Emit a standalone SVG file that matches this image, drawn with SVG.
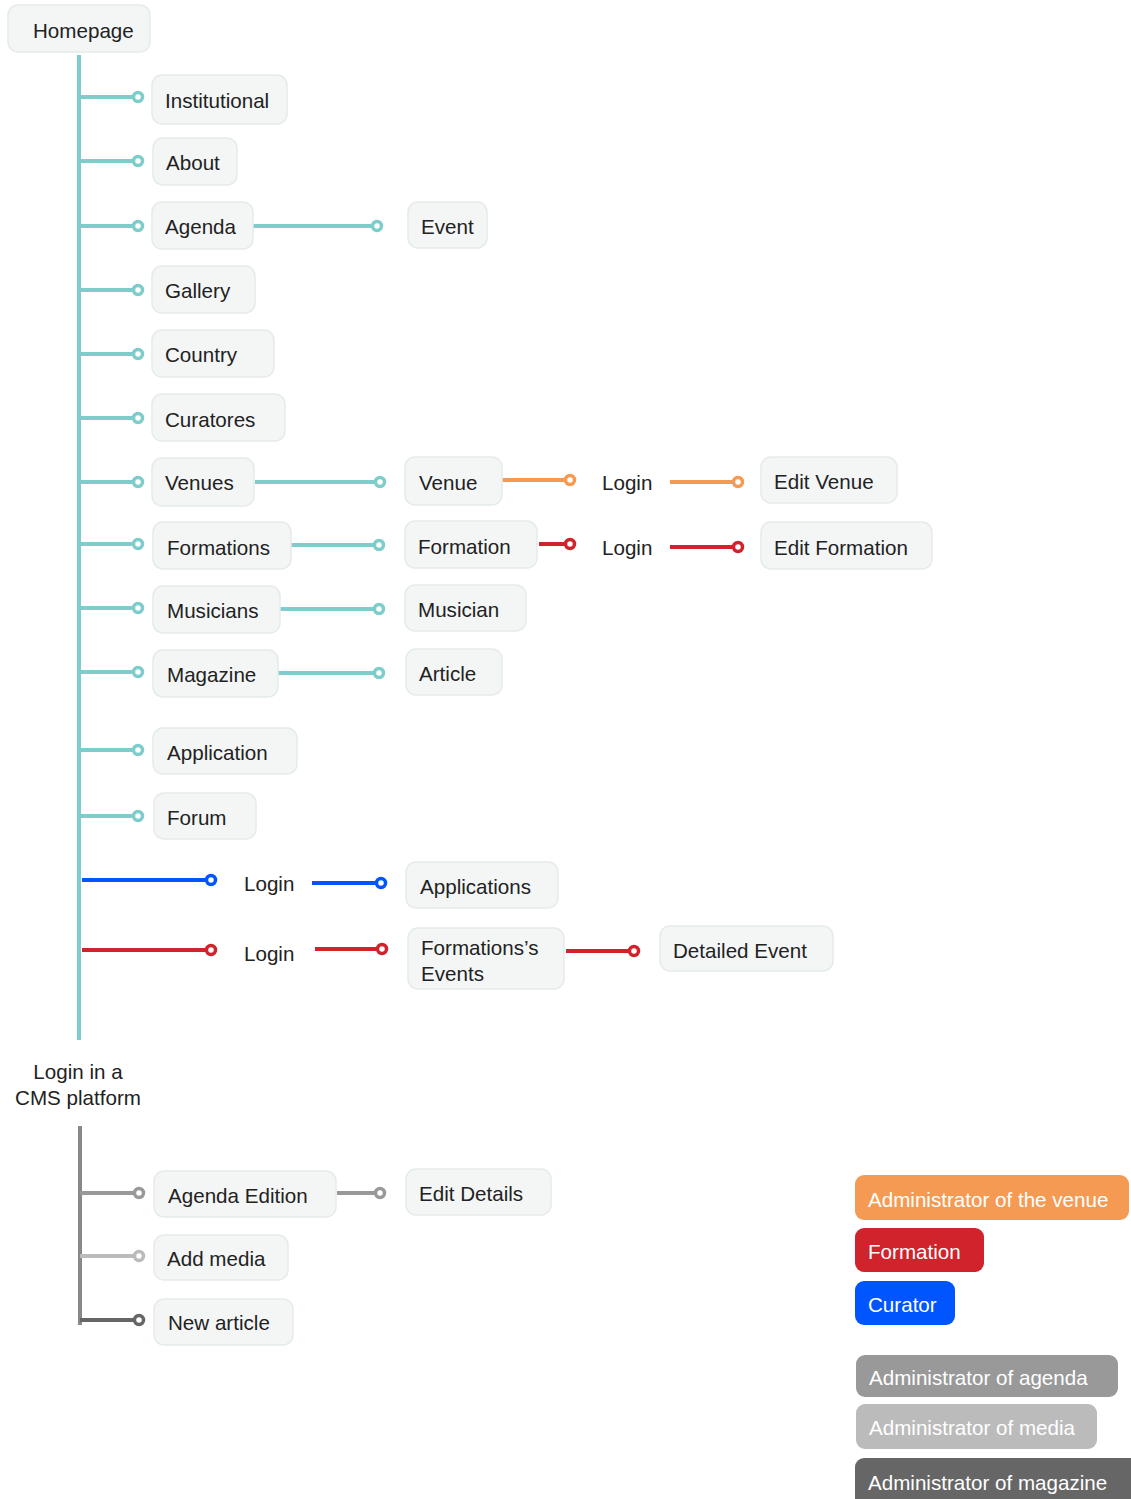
<svg xmlns="http://www.w3.org/2000/svg" width="1131" height="1499" viewBox="0 0 1131 1499">
<style>
text{font-family:"Liberation Sans",Arial,sans-serif;font-size:20.6px;fill:#222}
.box{fill:#f4f6f6;stroke:#e5eaea;stroke-width:1.5}
.t{stroke:#7ecdcb;stroke-width:4;fill:none}
.o{stroke:#f59a53;stroke-width:4;fill:none}
.r{stroke:#d0232b;stroke-width:4;fill:none}
.b{stroke:#0055ff;stroke-width:4;fill:none}
.g1{stroke:#999;stroke-width:4;fill:none}
.g2{stroke:#bbb;stroke-width:4;fill:none}
.g3{stroke:#666;stroke-width:4;fill:none}
.dt{fill:#fff;stroke:#7ecdcb;stroke-width:3.5}
.do{fill:#fff;stroke:#f59a53;stroke-width:3.5}
.dr{fill:#fff;stroke:#d0232b;stroke-width:3.5}
.db{fill:#fff;stroke:#0055ff;stroke-width:3.5}
.dg1{fill:#fff;stroke:#999;stroke-width:3.5}
.dg2{fill:#fff;stroke:#bbb;stroke-width:3.5}
.dg3{fill:#fff;stroke:#666;stroke-width:3.5}
.lg text{fill:#fff}
</style>
<g id="connectors">
<line class="t" x1="79" y1="55" x2="79" y2="1040"/>
<path class="t" d="M79 97H134M79 161H134M79 226H134M79 290H134M79 354H134M79 418H134M79 482H134M79 544H134M79 608H134M79 672H134M79 750H134M79 816H134"/>
<circle class="dt" cx="138" cy="97" r="4.5"/><circle class="dt" cx="138" cy="161" r="4.5"/><circle class="dt" cx="138" cy="226" r="4.5"/><circle class="dt" cx="138" cy="290" r="4.5"/><circle class="dt" cx="138" cy="354" r="4.5"/><circle class="dt" cx="138" cy="418" r="4.5"/><circle class="dt" cx="138" cy="482" r="4.5"/><circle class="dt" cx="138" cy="544" r="4.5"/><circle class="dt" cx="138" cy="608" r="4.5"/><circle class="dt" cx="138" cy="672" r="4.5"/><circle class="dt" cx="138" cy="750" r="4.5"/><circle class="dt" cx="138" cy="816" r="4.5"/>
<path class="t" d="M253 226H373M255 482H376M291 545H375M280 609H375M276 673H375"/>
<circle class="dt" cx="377" cy="226" r="4.5"/><circle class="dt" cx="380" cy="482" r="4.5"/><circle class="dt" cx="379" cy="545" r="4.5"/><circle class="dt" cx="379" cy="609" r="4.5"/><circle class="dt" cx="379" cy="673" r="4.5"/>
<path class="o" d="M502 480H566M670 482H734"/>
<circle class="do" cx="570" cy="480" r="4.5"/><circle class="do" cx="738" cy="482" r="4.5"/>
<path class="r" d="M539 544H566M670 547H734"/>
<circle class="dr" cx="570" cy="544" r="4.5"/><circle class="dr" cx="738" cy="547" r="4.5"/>
<path class="b" d="M82 880H207M312 883H377"/>
<circle class="db" cx="211" cy="880" r="4.5"/><circle class="db" cx="381" cy="883" r="4.5"/>
<path class="r" d="M82 950H207M315 949H378M566 951H630"/>
<circle class="dr" cx="211" cy="950" r="4.5"/><circle class="dr" cx="382" cy="949" r="4.5"/><circle class="dr" cx="634" cy="951" r="4.5"/>
<line x1="80" y1="1126" x2="80" y2="1325" stroke="#888" stroke-width="4"/>
<path class="g1" d="M80 1193H135M337 1193H376"/>
<circle class="dg1" cx="139" cy="1193" r="4.5"/><circle class="dg1" cx="380" cy="1193" r="4.5"/>
<path class="g2" d="M80 1256H135"/>
<circle class="dg2" cx="139" cy="1256" r="4.5"/>
<path class="g3" d="M80 1320H135"/>
<circle class="dg3" cx="139" cy="1320" r="4.5"/>
</g>
<g id="homepage"><rect class="box" x="8" y="5" width="142" height="47" rx="10"/><text x="33" y="38">Homepage</text></g>
<g id="institutional"><rect class="box" x="152" y="75" width="135" height="49" rx="10"/><text x="165" y="108">Institutional</text></g>
<g id="about"><rect class="box" x="153" y="138" width="84" height="47" rx="10"/><text x="166" y="170">About</text></g>
<g id="agenda"><rect class="box" x="152" y="202" width="101" height="47" rx="10"/><text x="165" y="234">Agenda</text></g>
<g id="gallery"><rect class="box" x="152" y="266" width="103" height="47" rx="10"/><text x="165" y="298">Gallery</text></g>
<g id="country"><rect class="box" x="152" y="330" width="122" height="47" rx="10"/><text x="165" y="362">Country</text></g>
<g id="curatores"><rect class="box" x="152" y="394" width="133" height="47" rx="10"/><text x="165" y="427">Curatores</text></g>
<g id="venues"><rect class="box" x="152" y="458" width="102" height="48" rx="10"/><text x="165" y="490">Venues</text></g>
<g id="formations"><rect class="box" x="153" y="522" width="138" height="47" rx="10"/><text x="167" y="555">Formations</text></g>
<g id="musicians"><rect class="box" x="153" y="586" width="127" height="47" rx="10"/><text x="167" y="618">Musicians</text></g>
<g id="magazine"><rect class="box" x="153" y="650" width="125" height="47" rx="10"/><text x="167" y="682">Magazine</text></g>
<g id="application"><rect class="box" x="153" y="728" width="144" height="46" rx="10"/><text x="167" y="760">Application</text></g>
<g id="forum"><rect class="box" x="154" y="793" width="102" height="46" rx="10"/><text x="167" y="825">Forum</text></g>
<g id="event"><rect class="box" x="408" y="202" width="79" height="46" rx="10"/><text x="421" y="234">Event</text></g>
<g id="venue"><rect class="box" x="405" y="457" width="97" height="48" rx="10"/><text x="419" y="490">Venue</text></g>
<g id="formation"><rect class="box" x="405" y="521" width="132" height="47" rx="10"/><text x="418" y="554">Formation</text></g>
<g id="musician"><rect class="box" x="405" y="585" width="121" height="46" rx="10"/><text x="418" y="617">Musician</text></g>
<g id="article"><rect class="box" x="406" y="649" width="96" height="46" rx="10"/><text x="419" y="681">Article</text></g>
<g id="login-venue"><text x="602" y="490">Login</text></g>
<g id="login-formation"><text x="602" y="555">Login</text></g>
<g id="edit-venue"><rect class="box" x="761" y="457" width="136" height="46" rx="10"/><text x="774" y="489">Edit Venue</text></g>
<g id="edit-formation"><rect class="box" x="761" y="522" width="171" height="47" rx="10"/><text x="774" y="555">Edit Formation</text></g>
<g id="login-curator"><text x="244" y="891">Login</text></g>
<g id="applications"><rect class="box" x="406" y="862" width="152" height="46" rx="10"/><text x="420" y="894">Applications</text></g>
<g id="login-formation2"><text x="244" y="961">Login</text></g>
<g id="formations-events"><rect class="box" x="408" y="928" width="156" height="61" rx="10"/><text x="421" y="955">Formations’s</text><text x="421" y="981">Events</text></g>
<g id="detailed-event"><rect class="box" x="660" y="926" width="173" height="45" rx="10"/><text x="673" y="958">Detailed Event</text></g>
<g id="cms"><text x="78" y="1079" text-anchor="middle">Login in a</text><text x="78" y="1105" text-anchor="middle">CMS platform</text></g>
<g id="agenda-edition"><rect class="box" x="154" y="1171" width="182" height="46" rx="10"/><text x="168" y="1203">Agenda Edition</text></g>
<g id="add-media"><rect class="box" x="154" y="1235" width="134" height="45" rx="10"/><text x="167" y="1266">Add media</text></g>
<g id="new-article"><rect class="box" x="154" y="1299" width="139" height="46" rx="10"/><text x="168" y="1330">New article</text></g>
<g id="edit-details"><rect class="box" x="406" y="1169" width="145" height="46" rx="10"/><text x="419" y="1201">Edit Details</text></g>
<g id="legend" class="lg">
<g id="lg-venue"><rect x="855" y="1175" width="274" height="45" rx="9" fill="#f59a53"/><text x="868" y="1207">Administrator of the venue</text></g>
<g id="lg-formation"><rect x="855" y="1228" width="129" height="44" rx="9" fill="#d0232b"/><text x="868" y="1259">Formation</text></g>
<g id="lg-curator"><rect x="855" y="1281" width="100" height="44" rx="9" fill="#0055ff"/><text x="868" y="1312">Curator</text></g>
<g id="lg-agenda"><rect x="856" y="1355" width="262" height="42" rx="9" fill="#999"/><text x="869" y="1385">Administrator of agenda</text></g>
<g id="lg-media"><rect x="856" y="1404" width="241" height="45" rx="9" fill="#bbb"/><text x="869" y="1435">Administrator of media</text></g>
<g id="lg-magazine"><rect x="855" y="1458" width="290" height="50" rx="9" fill="#666"/><text x="868" y="1490">Administrator of magazine</text></g>
</g>
</svg>
